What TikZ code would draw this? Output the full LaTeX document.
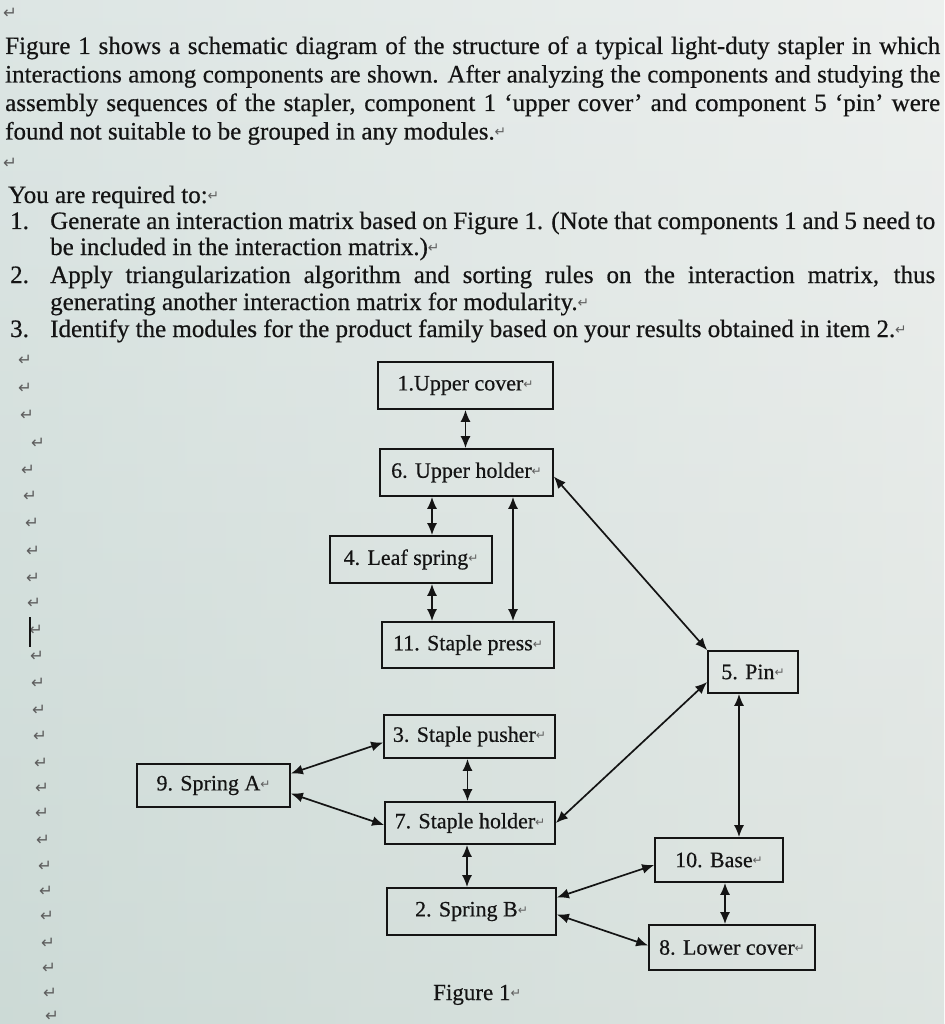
\documentclass[tikz,border=0pt]{standalone}
\usepackage{fontspec}
\usepackage{graphicx}
\setmainfont{Liberation Serif}[FakeBold=0.5]
\newfontfamily\symf{DejaVu Sans}
\usetikzlibrary{arrows.meta}
\definecolor{ink}{HTML}{141414}
\definecolor{markc}{HTML}{5E5E5E}
\definecolor{bgtop}{HTML}{ECF1F1}
\definecolor{bgbot}{HTML}{CFDCD8}
\definecolor{bgleft}{HTML}{CAD8D4}
\definecolor{bgright}{HTML}{F0EFEC}
\newcommand\rmk{{\symf\color{markc}\raisebox{0.1em}{\scalebox{0.55}{↵}}}}
\begin{document}
\begin{tikzpicture}[x=1pt,y=-1pt,
  txt/.style={anchor=base west, inner sep=0pt, font=\fontsize{25}{28}\selectfont, text=ink},
  box/.style={draw=ink, line width=1.7pt, inner sep=0pt, font=\fontsize{22}{24}\selectfont, text=ink},
  link/.style={line width=1.7pt, draw=ink, {Latex[length=12pt,width=10pt]}-{Latex[length=12pt,width=10pt]}},
  lmark/.style={inner sep=0pt, anchor=center, font=\fontsize{30}{30}\selectfont}]
\useasboundingbox (0,0) rectangle (944,1024);
\shade[top color=bgtop, bottom color=bgbot] (0,0) rectangle (944,1024);
\shade[left color=bgleft, right color=bgright, opacity=0.45] (0,0) rectangle (944,1024);

% text
\node[lmark] (m0) at (10,15) {\rmk};
\node[txt] (p1) at (5,54) {\makebox[935pt][s]{Figure 1 shows a schematic diagram of the structure of a typical light-duty stapler in which}};
\node[txt] (p2) at (5,82.5) {\makebox[935pt][s]{interactions among components are shown. After analyzing the components and studying the}};
\node[txt] (p3) at (5,111) {\makebox[935pt][s]{assembly sequences of the stapler, component 1 ‘upper cover’ and component 5 ‘pin’ were}};
\node[txt] (p4) at (5,139.5) {found not suitable to be grouped in any modules.\rmk};
\node[lmark] (m1) at (10,165) {\rmk};
\node[txt] (req) at (8,203) {You are required to:\rmk};
\node[txt] (n1) at (10,229) {1.};
\node[txt] (i1a) at (50,229) {\makebox[885pt][s]{Generate an interaction matrix based on Figure 1. (Note that components 1 and 5 need to}};
\node[txt] (i1b) at (50,255) {be included in the interaction matrix.)\rmk};
\node[txt] (n2) at (10,283) {2.};
\node[txt] (i2a) at (50,283) {\makebox[885pt][s]{Apply triangularization algorithm and sorting rules on the interaction matrix, thus}};
\node[txt] (i2b) at (50,310) {generating another interaction matrix for modularity.\rmk};
\node[txt] (n3) at (10,337) {3.};
\node[txt] (i3) at (50,337) {Identify the modules for the product family based on your results obtained in item 2.\rmk};

% left column of paragraph marks
\foreach \x/\y [count=\i] in {25/362,25/390,27/417,38/445,28/472,30/498,32/525,33/553,33/580,34/605,36/632,37/658,38/685,39/712,40/738,41/765,42/790,42/815,43/842,45/868,46/893,47/918,48/945,49/970,50/995,52/1018}
  \node[lmark] (lm\i) at (\x,\y) {\rmk};
\draw[ink, line width=1.5pt] (30,617) -- (30,647);

% boxes
\node[box, minimum width=175pt, minimum height=47pt] (b1) at (465.5,385.5) {1.Upper cover\rmk};
\node[box, minimum width=173pt, minimum height=47pt] (b6) at (466.5,472.5) {6. Upper holder\rmk};
\node[box, minimum width=162pt, minimum height=47pt] (b4) at (411,559.5) {4. Leaf spring\rmk};
\node[box, minimum width=172pt, minimum height=46pt] (b11) at (468,645) {11. Staple press\rmk};
\node[box, minimum width=171pt, minimum height=43pt] (b3) at (469.5,736.5) {3. Staple pusher\rmk};
\node[box, minimum width=153pt, minimum height=43pt] (b9) at (213.5,785.5) {9. Spring A\rmk};
\node[box, minimum width=170pt, minimum height=42pt] (b7) at (470,823) {7. Staple holder\rmk};
\node[box, minimum width=90pt, minimum height=42pt] (b5) at (753,672) {5. Pin\rmk};
\node[box, minimum width=128pt, minimum height=44pt] (b10) at (719,860) {10. Base\rmk};
\node[box, minimum width=169pt, minimum height=47pt] (b2) at (471.5,911.5) {2. Spring B\rmk};
\node[box, minimum width=166pt, minimum height=45pt] (b8) at (732,947.5) {8. Lower cover\rmk};

% connectors
\draw[link] (b1.south) -- (b1.south |- b6.north);
\draw[link] ([xshift=21pt]b4.north) -- ([xshift=21pt]b4.north |- b6.south);
\draw[link] ([xshift=21pt]b4.south) -- ([xshift=21pt]b4.south |- b11.north);
\draw[link] ([xshift=45pt]b11.north) -- ([xshift=45pt]b11.north |- b6.south);
\draw[link] ([yshift=-4pt]b6.east) -- (b5.north west);
\draw[link] (b7.east) -- ([yshift=-10pt]b5.west);
\draw[link] ([xshift=-14pt]b5.south) -- ([xshift=-14pt]b5.south |- b10.north);
\draw[link] ([yshift=12pt]b9.east) -- ([yshift=-6pt]b3.west);
\draw[link] ([yshift=-8pt]b9.east) -- ([yshift=-2pt]b7.west);
\draw[link] ([xshift=-2pt]b3.south) -- ([xshift=-2pt]b3.south |- b7.north);
\draw[link] ([xshift=-3pt]b7.south) -- ([xshift=-3pt]b7.south |- b2.north);
\draw[link] ([yshift=14pt]b2.east) -- ([yshift=-5pt]b10.west);
\draw[link] ([yshift=-3pt]b2.east) -- ([yshift=2pt]b8.west);
\draw[link] ([xshift=6pt]b10.south) -- ([xshift=6pt]b10.south |- b8.north);

\node[txt, font=\fontsize{23}{24}\selectfont] (cap) at (433,1000) {Figure 1\rmk};
\end{tikzpicture}
\end{document}
